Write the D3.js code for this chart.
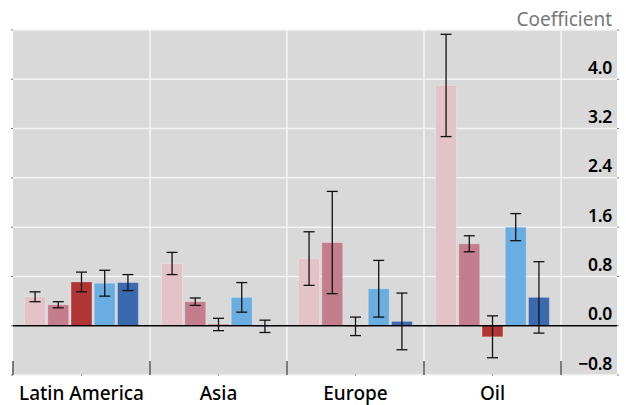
<!DOCTYPE html>
<html>
<head>
<meta charset="utf-8">
<script src="https://cdn.jsdelivr.net/npm/d3@7"></script>
<style>
  html, body { margin: 0; padding: 0; background: #fff; }
  svg { display: block; }
</style>
</head>
<body>
<svg id="chart" width="626" height="405"></svg>
<script>
// Regions / sectors and the five model series
const categories = ["Latin America", "Asia", "Europe", "Oil"];
const seriesNames = ["s1", "s2", "s3", "s4", "s5"];
const seriesColors = ["#e3c2c8", "#c47d8d", "#b03535", "#6aade0", "#3a6aad"];

// Coefficient estimates, one array per series (ordered by category)
const s1Values = [0.47, 1.01, 1.09, 3.90];
const s2Values = [0.34, 0.39, 1.35, 1.33];
const s3Values = [0.71, 0.02, -0.01, -0.18];
const s4Values = [0.69, 0.46, 0.60, 1.60];
const s5Values = [0.70, -0.01, 0.07, 0.46];

// Half-widths of the confidence intervals
const s1Errors = [0.08, 0.18, 0.435, 0.83];
const s2Errors = [0.05, 0.06, 0.83, 0.13];
const s3Errors = [0.16, 0.10, 0.15, 0.34];
const s4Errors = [0.21, 0.24, 0.46, 0.22];
const s5Errors = [0.13, 0.10, 0.46, 0.58];

const yTicks = [-0.8, 0.0, 0.8, 1.6, 2.4, 3.2, 4.0];
const yDomain = [-0.8, 4.8];
const yTitle = "Coefficient";

const valueTable = [s1Values, s2Values, s3Values, s4Values, s5Values];
const errorTable = [s1Errors, s2Errors, s3Errors, s4Errors, s5Errors];

const svg = d3.select("#chart");
const plot = { left: 13, right: 617, top: 30, bottom: 375 };
const catRight = 561;

const x0 = d3.scaleBand().domain(categories).range([plot.left, catRight]);
const x1 = d3.scaleBand().domain(seriesNames).range([0, x0.bandwidth()])
  .paddingInner(0.1).paddingOuter(0.5);
const y = d3.scaleLinear().domain(yDomain).range([plot.bottom, plot.top]);

// Background panel
svg.append("rect")
  .attr("x", plot.left).attr("y", plot.top)
  .attr("width", plot.right - plot.left).attr("height", plot.bottom - plot.top)
  .attr("fill", "#d9d9d9");

// Horizontal gridlines
const grid = svg.append("g");
grid.selectAll("line.h").data(yTicks.concat([4.8])).join("line")
  .attr("class", "h")
  .attr("x1", plot.left).attr("x2", plot.right)
  .attr("y1", d => y(d)).attr("y2", d => y(d))
  .attr("stroke", "#f4f4f4").attr("stroke-width", 1.5);

// Vertical separators between categories
const boundaries = categories.slice(1).map(c => x0(c)).concat([catRight]);
grid.selectAll("line.v").data(boundaries).join("line")
  .attr("class", "v")
  .attr("x1", d => d).attr("x2", d => d)
  .attr("y1", plot.top).attr("y2", plot.bottom)
  .attr("stroke", "#f4f4f4").attr("stroke-width", 1.5);

// Bars
const rows = [];
categories.forEach((c, ci) => {
  seriesNames.forEach((s, si) => {
    rows.push({ cat: c, series: s, si, value: valueTable[si][ci], err: errorTable[si][ci] });
  });
});

const groups = svg.append("g");
groups.selectAll("rect.bar").data(rows).join("rect")
  .attr("class", "bar")
  .attr("x", d => x0(d.cat) + x1(d.series))
  .attr("width", x1.bandwidth())
  .attr("y", d => y(Math.max(0, d.value)))
  .attr("height", d => Math.abs(y(d.value) - y(0)))
  .attr("fill", d => seriesColors[d.si])
  .attr("stroke", "#ffffff").attr("stroke-opacity", 0.25).attr("stroke-width", 1);

// Zero line
svg.append("line")
  .attr("x1", plot.left).attr("x2", plot.right)
  .attr("y1", y(0)).attr("y2", y(0))
  .attr("stroke", "#000").attr("stroke-width", 1.5);

// Error bars
const eb = svg.append("g").attr("stroke", "#111").attr("stroke-width", 1.3);
const cap = 5.5;
rows.forEach(d => {
  const cx = x0(d.cat) + x1(d.series) + x1.bandwidth() / 2;
  const yHi = y(d.value + d.err), yLo = y(d.value - d.err);
  eb.append("line").attr("x1", cx).attr("x2", cx).attr("y1", yHi).attr("y2", yLo);
  eb.append("line").attr("x1", cx - cap).attr("x2", cx + cap).attr("y1", yHi).attr("y2", yHi);
  eb.append("line").attr("x1", cx - cap).attr("x2", cx + cap).attr("y1", yLo).attr("y2", yLo);
});

// Right-hand value axis labels, drawn inside the panel
const fmt = v => (v < 0 ? "\u2212" : "") + d3.format(".1f")(Math.abs(v));
svg.append("g").selectAll("text").data(yTicks).join("text")
  .attr("x", 612).attr("y", d => y(d) - 5.5)
  .attr("text-anchor", "end")
  .attr("font-family", "'Noto Sans', 'Open Sans', sans-serif")
  .attr("font-weight", 600)
  .attr("font-size", 17.5)
  .attr("letter-spacing", -0.3)
  .attr("fill", "#000")
  .text(fmt);

// Small edge ticks on both sides of the panel
const edgeTicks = svg.append("g").attr("stroke", "#777").attr("stroke-width", 1);
yTicks.concat([4.8]).forEach(v => {
  edgeTicks.append("line").attr("x1", plot.left - 2).attr("x2", plot.left).attr("y1", y(v)).attr("y2", y(v));
  edgeTicks.append("line").attr("x1", plot.right).attr("x2", plot.right + 2).attr("y1", y(v)).attr("y2", y(v));
});

// Category axis: boundary ticks and centre marks
const xAxis = svg.append("g");
xAxis.selectAll("line.b").data([plot.left].concat(boundaries)).join("line")
  .attr("class", "b")
  .attr("x1", d => d).attr("x2", d => d)
  .attr("y1", plot.bottom - 14).attr("y2", plot.bottom)
  .attr("stroke", "#555").attr("stroke-width", 1.5);
xAxis.selectAll("line.c").data(categories).join("line")
  .attr("class", "c")
  .attr("x1", d => x0(d) + x0.bandwidth() / 2).attr("x2", d => x0(d) + x0.bandwidth() / 2)
  .attr("y1", plot.bottom - 1).attr("y2", plot.bottom + 1)
  .attr("stroke", "#999").attr("stroke-width", 1);

xAxis.selectAll("text").data(categories).join("text")
  .attr("x", d => x0(d) + x0.bandwidth() / 2)
  .attr("y", 400)
  .attr("text-anchor", "middle")
  .attr("font-family", "'Noto Sans', 'Open Sans', sans-serif")
  .attr("font-weight", 500)
  .attr("font-size", 19)
  .attr("fill", "#000")
  .text(d => d);

// Axis title
svg.append("text")
  .attr("x", 612).attr("y", 26)
  .attr("text-anchor", "end")
  .attr("font-family", "'Noto Sans', 'Open Sans', sans-serif")
  .attr("font-size", 19)
  .attr("fill", "#777")
  .text(yTitle);
</script>
</body>
</html>
